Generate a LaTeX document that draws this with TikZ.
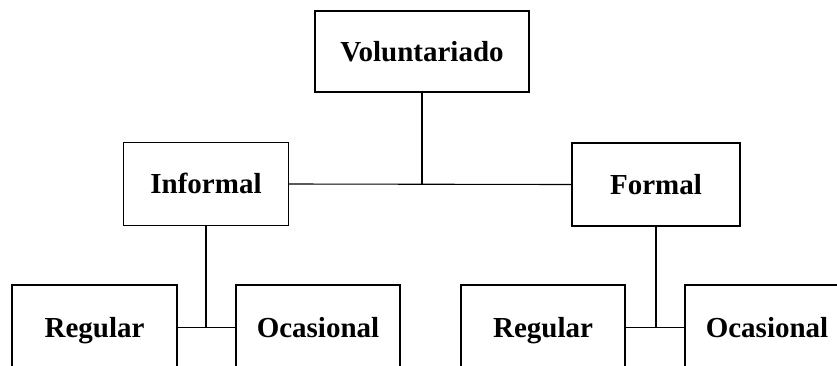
\documentclass[tikz,border=0pt]{standalone}
\usepackage{fontspec}
\setmainfont{Liberation Serif}
\begin{document}
\begin{tikzpicture}[x=1pt, y=-1pt, line width=1.1pt,
  every node/.style={font=\fontsize{29}{34}\selectfont\bfseries},
  box/.style={draw, inner sep=0pt, minimum width=165pt, minimum height=83pt,
    text height=19pt, text depth=0pt}]
  \clip (0,0) rectangle (837,365);
  \node[box, minimum width=214pt, minimum height=81pt] (vol) at (422,51.5) {Voluntariado};
  \node[box] (inf) at (206,184) {Informal};
  \node[box, minimum width=168pt] (form) at (656,184.5) {Formal};
  \node[box, minimum height=85pt] (infreg) at (94.5,327.5) {Regular};
  \node[box, minimum width=164pt, minimum height=85pt] (infoca) at (318,327.5) {Ocasional};
  \node[box, minimum width=164pt, minimum height=85pt] (forreg) at (543,327.5) {Regular};
  \node[box, minimum width=164pt, minimum height=85pt] (foroca) at (767,327.5) {Ocasional};
  \draw (vol.south) -- (vol.south |- inf.east);
  \draw (inf.east) -- (form.west);
  \draw (inf.south) -- (inf.south |- infreg.east);
  \draw (infreg.east) -- (infoca.west);
  \draw (form.south) -- (form.south |- forreg.east);
  \draw (forreg.east) -- (foroca.west);
\end{tikzpicture}
\end{document}
